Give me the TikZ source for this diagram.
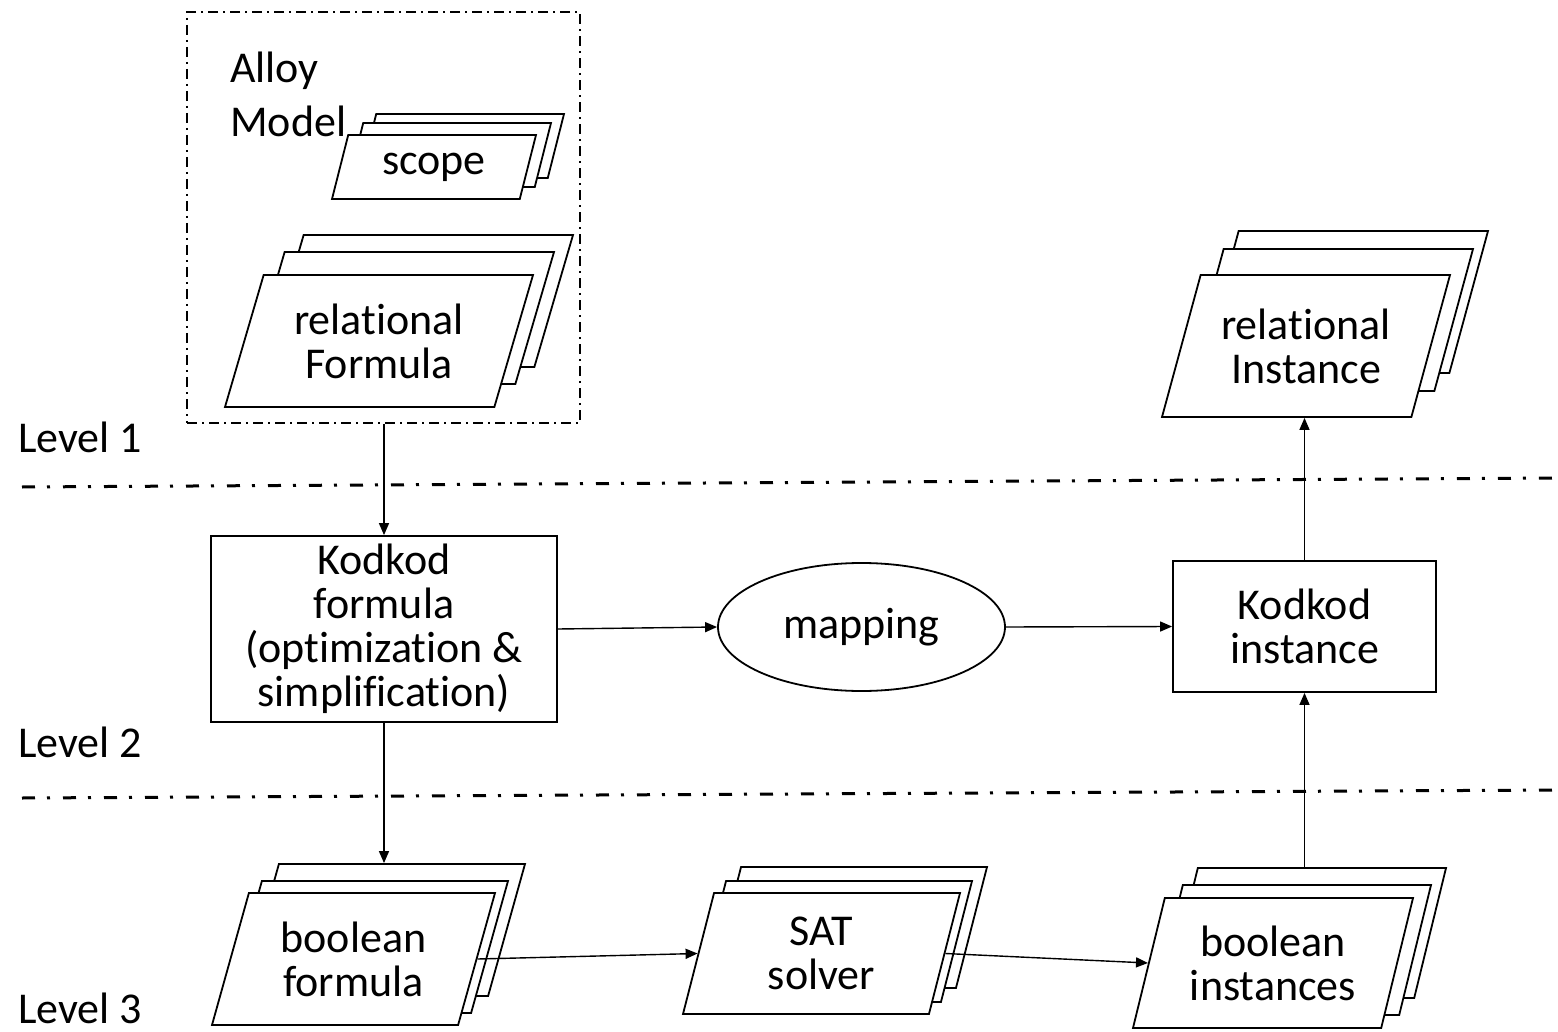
\documentclass[tikz,border=0pt]{standalone}
\usepackage{fontspec}
\setmainfont[Ligatures={NoCommon}]{Carlito}
\usetikzlibrary{shapes.geometric,shadows,arrows.meta}

\tikzset{
  txt/.style={font=\fontsize{44}{44}\selectfont, align=center, inner sep=4pt},
  box/.style={txt, rectangle, draw, line width=1.8pt},
  dashbox/.style={rectangle, draw, line width=1.5pt,
    dash pattern=on 10pt off 5pt on 2pt off 5pt},
  levelsep/.style={line width=3pt, dash pattern=on 13pt off 12pt on 3pt off 13pt},
  levellabel/.style={font=\fontsize{44}{44}\selectfont, anchor=base west, inner sep=0pt},
  conn/.style={line width=1.4pt, -{Triangle[length=12pt,width=10pt]}},
  % a pile of three sheets: angles of the front sheet, then the offsets of the two sheets behind it
  stack/.style n args={6}{txt, trapezium, trapezium stretches body=true,
    trapezium left angle=#1, trapezium right angle=#2,
    draw, fill=white, line width=1.8pt,
    general shadow={shadow xshift=#5, shadow yshift=#6, draw, fill=white, line width=1.8pt},
    general shadow={shadow xshift=#3, shadow yshift=#4, draw, fill=white, line width=1.8pt}},
}

\begin{document}
\begin{tikzpicture}[x=1pt, y=-1pt]
\useasboundingbox (0,0) rectangle (1558,1032);

% level separators
\draw[levelsep] (22,487) -- (1558,478);
\draw[levelsep] (22,798) -- (1558,790);

% level labels
\node[levellabel] (lv1) at (18,452) {Level 1};
\node[levellabel] (lv2) at (18,757) {Level 2};
\node[levellabel] (lv3) at (18,1023) {Level 3};

% Alloy model container
\node[dashbox, minimum width=393pt, minimum height=411pt] (alloy) at (383.5,217.5) {};
\node[font=\fontsize{44}{54}\selectfont, align=left, anchor=west, inner sep=0pt]
  (alloylbl) at (230,94.5) {Alloy\\Model};
\node[stack={66}{114}{15pt}{12pt}{28pt}{21pt}, minimum width=204pt, minimum height=64pt]
  (scope) at (434,167) {scope};
\node[stack={65}{115}{21pt}{23pt}{40pt}{40pt}, minimum width=308pt, minimum height=132pt]
  (relf) at (379,341) {relational\\Formula};

% level 2
\node[box, minimum width=346pt, minimum height=186pt] (kf) at (384,629)
  {Kodkod\\formula\\(optimization \&\\simplification)};
\node[txt, ellipse, draw, line width=1.8pt, minimum width=287pt, minimum height=128pt]
  (map) at (861.5,627) {mapping};
\node[box, minimum width=263pt, minimum height=131pt] (ki) at (1304.5,626.5)
  {Kodkod\\instance};

% result
\node[stack={65}{115}{23pt}{26pt}{38pt}{44pt}, minimum width=288pt, minimum height=142pt]
  (reli) at (1306,346) {relational\\Instance};

% level 3
\node[stack={66}{114}{13pt}{12pt}{30pt}{29pt}, minimum width=283pt, minimum height=132pt]
  (bf) at (353.5,959) {boolean\\formula};
\node[stack={69}{111}{12pt}{12pt}{27pt}{26pt}, minimum width=277pt, minimum height=121pt]
  (sat) at (821.5,953.5) {SAT\\solver};
\node[stack={69}{111}{18pt}{13pt}{33pt}{30pt}, minimum width=280pt, minimum height=130pt]
  (bi) at (1273,963) {boolean\\instances};

% tops of the rear sheets
\coordinate (bftop) at ([yshift=29pt]bf.north);
\coordinate (bitop) at ([yshift=30pt]bi.north);

% connectors
\draw[conn] (kf.north |- alloy.south) -- (kf.north);
\draw[conn] (kf.east) -- (map.west);
\draw[conn] (map.east) -- (ki.west);
\draw[conn] (ki.north) -- (ki.north |- reli.south);
\draw[conn] (kf.south) -- (kf.south |- bftop);
\draw[conn] (bf.east) -- (sat.west);
\draw[conn] (sat.east) -- (bi.west);
\draw[conn] (ki.south |- bitop) -- (ki.south);
\end{tikzpicture}
\end{document}
